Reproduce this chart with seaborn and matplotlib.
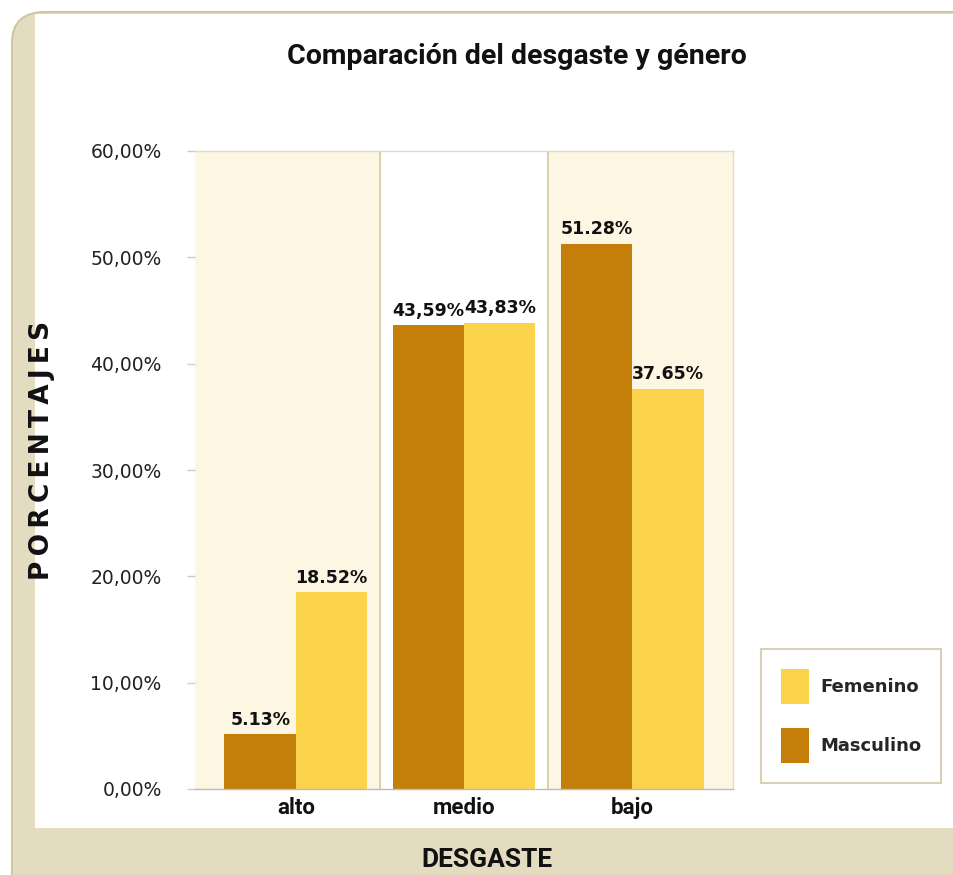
import matplotlib
matplotlib.use("Agg")
import matplotlib.pyplot as plt
import seaborn as sns
import pandas as pd
from matplotlib.patches import FancyBboxPatch, Rectangle, Patch

# ---- data ----
categories = ["alto", "medio", "bajo"]
masculino = [5.13, 43.59, 51.28]
femenino = [18.52, 43.83, 37.65]
masc_labels = ["5.13%", "43,59%", "51.28%"]
fem_labels = ["18.52%", "43,83%", "37.65%"]
yticks = [0, 10, 20, 30, 40, 50, 60]
ytick_labels = ["0,00%", "10,00%", "20,00%", "30,00%", "40,00%", "50,00%", "60,00%"]

df = pd.DataFrame({
    "Desgaste": categories * 2,
    "Género": ["Masculino"] * 3 + ["Femenino"] * 3,
    "Valor": masculino + femenino,
})

sns.set_theme(style="white")
plt.rcParams["font.family"] = ["DejaVu Sans"]
NARROW = ["Roboto", "DejaVu Sans"]

W, H = 954, 875
fig = plt.figure(figsize=(W / 100, H / 100), dpi=100)
fig.patch.set_facecolor("white")

BEIGE = "#e4dcc0"
BEIGE_EDGE = "#cfc6a4"
CREAM = "#fdf6e2"
DARK = "#c47e0a"
YELLOW = "#fcd44c"

def fx(px):
    return px / W

def fy(py):
    return 1 - py / H

# outer beige frame with rounded corner
frame = FancyBboxPatch((fx(12), fy(905)), fx(1000), (905 - 12) / H,
                       boxstyle="round,pad=0,rounding_size=0.035",
                       transform=fig.transFigure, facecolor=BEIGE,
                       edgecolor=BEIGE_EDGE, linewidth=1.5, zorder=0)
fig.patches.append(frame)
inner = Rectangle((fx(35), fy(828)), fx(954 - 35) + 0.01, (828 - 14) / H,
                  transform=fig.transFigure, facecolor="white",
                  edgecolor="none", zorder=0.5)
fig.patches.append(inner)

ax = fig.add_axes([fx(195), fy(789), fx(733 - 195), (789 - 151) / H])
ax.set_facecolor("none")
ax.set_zorder(2)

sns.barplot(data=df, x="Desgaste", y="Valor", hue="Género",
            order=categories, hue_order=["Masculino", "Femenino"],
            palette={"Masculino": DARK, "Femenino": YELLOW},
            width=0.85, saturation=1, dodge=True, ax=ax, legend=False,
            edgecolor="none", linewidth=0)

ax.set_xlim(-0.6, 2.6)
ax.set_ylim(0, 60)

# alternating bands
ax.axvspan(-0.6, 0.5, color=CREAM, zorder=0, lw=0)
ax.axvspan(1.5, 2.6, color=CREAM, zorder=0, lw=0)
for xb in [0.5, 1.5]:
    ax.axvline(xb, color="#d6c9a0", lw=1.2, zorder=0.5)

# bar labels
conts = ax.containers
ax.bar_label(conts[0], labels=masc_labels, padding=4, fontsize=12.5,
             fontweight="bold", color="#111111")
ax.bar_label(conts[1], labels=fem_labels, padding=4, fontsize=12.5,
             fontweight="bold", color="#111111")

ax.set_yticks(yticks)
ax.set_yticklabels(ytick_labels, fontsize=13.5, color="#222222")
ax.tick_params(axis="y", length=6, width=1, color="#cccccc", pad=18, left=True)
ax.tick_params(axis="x", length=0, pad=6)
ax.set_xticks(range(3))
ax.set_xticklabels(categories, fontsize=16, fontweight="bold",
                   family=NARROW, color="#111111")
ax.set_xlabel("")
ax.set_ylabel("")

for s in ["top", "right"]:
    ax.spines[s].set_color("#e6dcc0")
    ax.spines[s].set_linewidth(1)
ax.spines["left"].set_visible(False)
ax.spines["bottom"].set_color("#bbbbbb")
ax.spines["bottom"].set_linewidth(1)

# titles
fig.text(fx(517), fy(57), "Comparación del desgaste y género", ha="center",
         va="center", fontsize=20.5, fontweight="bold", family=NARROW,
         color="#111111")
fig.text(fx(42), fy(450), "\u2009".join("PORCENTAJES"), rotation=90,
         ha="center", va="center", fontsize=19, fontweight="heavy",
         color="#111111")
fig.text(fx(487), fy(860), "DESGASTE", ha="center", va="center",
         fontsize=19, fontweight="bold", family=NARROW,
         color="#111111")

# legend
handles = [Patch(facecolor=YELLOW, edgecolor="none", label="Femenino"),
           Patch(facecolor=DARK, edgecolor="none", label="Masculino")]
leg = fig.legend(handles=handles, loc="center",
                 bbox_to_anchor=(fx(851), fy(716)), frameon=True,
                 fancybox=False, prop={"weight": "bold", "size": 13},
                 handlelength=1.6, handleheight=2.6, handletextpad=0.6,
                 labelspacing=1.3, borderpad=1.1, borderaxespad=0)
leg.get_frame().set_edgecolor("#cfc6a4")
leg.get_frame().set_linewidth(1.5)

fig.savefig("out.png", dpi=100)
